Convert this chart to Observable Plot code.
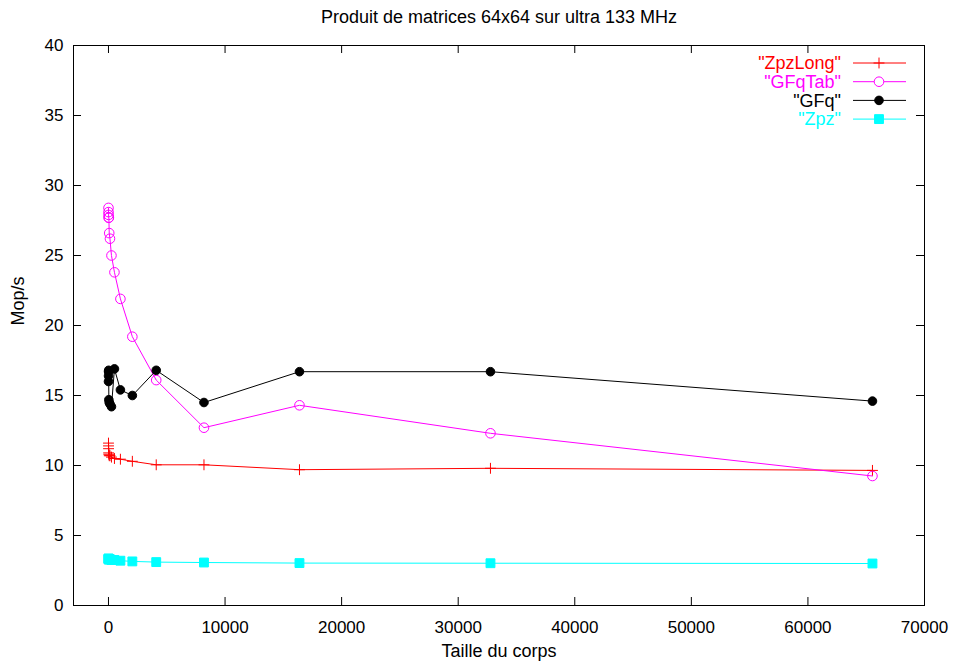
<!DOCTYPE html>
<html>
<head>
<meta charset="utf-8">
<script src="https://cdn.jsdelivr.net/npm/d3@7"></script>
<script src="https://cdn.jsdelivr.net/npm/@observablehq/plot@0.6"></script>
<style>
  body { margin: 0; background: #fff; }
  svg { font-family: "Liberation Sans", Arial, sans-serif; }
</style>
</head>
<body>
<div id="chart"></div>
<script>
const title = "Produit de matrices 64x64 sur ultra 133 MHz";
const xLabel = "Taille du corps";
const yLabel = "Mop/s";
const sizes = [2, 4, 8, 16, 32, 64, 128, 256, 512, 1024, 2048, 4096, 8192, 16384, 32768, 65536];
const zpzLong = [11.6, 11.4, 11.2, 10.9, 10.8, 10.7, 10.7, 10.6, 10.5, 10.45, 10.3, 10.05, 10.05, 9.7, 9.8, 9.65];
const gfqTab  = [28.4, 28.1, 27.9, 27.7, 27.7, 26.6, 26.2, 25.0, 23.8, 21.9, 19.2, 16.1, 12.7, 14.3, 12.3, 9.25];
const gfq     = [16.0, 16.4, 16.7, 16.8, 14.7, 14.5, 14.4, 14.2, 16.9, 15.4, 15.0, 16.8, 14.5, 16.7, 16.7, 14.6];
const zpz     = [3.35, 3.35, 3.3, 3.3, 3.3, 3.3, 3.3, 3.25, 3.25, 3.2, 3.15, 3.1, 3.07, 3.03, 3.02, 3.0];
const xTicks = [0, 10000, 20000, 30000, 40000, 50000, 60000, 70000];
const yTicks = [0, 5, 10, 15, 20, 25, 30, 35, 40];

const series = [
  {name: "\"ZpzLong\"", values: zpzLong, color: "#ff0000", symbol: "plus", fill: "none", r: 3.6},
  {name: "\"GFqTab\"", values: gfqTab, color: "#ff00ff", symbol: "circle", fill: "none", r: 4.8},
  {name: "\"GFq\"", values: gfq, color: "#000000", symbol: "circle", fill: "#000000", r: 4.3},
  {name: "\"Zpz\"", values: zpz, color: "#00ffff", symbol: "square", fill: "#00ffff", r: 5}
];
const rows = series.flatMap(s => s.values.map((v, i) => ({series: s.name, x: sizes[i], y: v})));

const W = 959, H = 666, mL = 73, mR = 35, mT = 45, mB = 61;
const innerH = H - mT - mB, innerW = W - mL - mR;
const tickLen = 8;
const FS = 17, FL = 18;

const marks = [
  Plot.frame({stroke: "#000"}),
  Plot.ruleX(xTicks, {x: d => d, insetTop: innerH - tickLen, stroke: "#000"}),
  Plot.ruleX(xTicks, {x: d => d, insetBottom: innerH - tickLen, stroke: "#000"}),
  Plot.ruleY(yTicks, {y: d => d, insetRight: innerW - tickLen, stroke: "#000"}),
  Plot.ruleY(yTicks, {y: d => d, insetLeft: innerW - tickLen, stroke: "#000"}),
  Plot.axisX(xTicks, {tickSize: 0, tickPadding: 15, fontSize: FS, label: null, tickFormat: d3.format("d")}),
  Plot.axisY(yTicks, {tickSize: 0, tickPadding: 10, fontSize: FS, label: null, tickFormat: d3.format("d")}),
  Plot.text([title], {frameAnchor: "top", lineAnchor: "middle", dy: -28, fontSize: FL}),
  Plot.text([xLabel], {frameAnchor: "bottom", lineAnchor: "middle", dy: 46, fontSize: FL}),
  Plot.text([yLabel], {frameAnchor: "left", dx: -55, rotate: -90, fontSize: FL})
];
for (const s of series) {
  const data = rows.filter(d => d.series === s.name);
  marks.push(Plot.line(data, {x: "x", y: "y", stroke: s.color, strokeWidth: 1}));
  marks.push(Plot.dot(data, {x: "x", y: "y", symbol: s.symbol, r: s.r, stroke: s.color, fill: s.fill, strokeWidth: 1}));
}
// legend (inside top-right corner)
marks.push((index, scales, values, dims) => {
  const g = d3.create("svg:g");
  const right = dims.width - dims.marginRight;
  const top = dims.marginTop;
  series.forEach((s, i) => {
    const y = top + 18 + i * 18.7;
    g.append("text").attr("x", right - 83).attr("y", y).attr("dy", "0.35em")
      .attr("text-anchor", "end").attr("font-size", FL).attr("fill", s.color).text(s.name);
    g.append("line").attr("x1", right - 71).attr("x2", right - 18).attr("y1", y).attr("y2", y)
      .attr("stroke", s.color).attr("stroke-width", 1);
    const sym = {plus: d3.symbolPlus, circle: d3.symbolCircle, square: d3.symbolSquare}[s.symbol];
    g.append("path").attr("transform", `translate(${right - 45},${y})`)
      .attr("d", d3.symbol(sym, s.r * s.r * Math.PI)())
      .attr("stroke", s.color).attr("fill", s.fill === "none" ? (s.symbol === "circle" ? "#fff" : "none") : s.fill);
  });
  return g.node();
});

const chart = Plot.plot({
  width: W, height: H,
  marginLeft: mL, marginRight: mR, marginTop: mT, marginBottom: mB,
  style: {fontFamily: "'Liberation Sans', Arial, sans-serif", fontSize: FS + "px", color: "#000", background: "#fff"},
  x: {domain: [-3000, 70000]},
  y: {domain: [0, 40]},
  marks
});
document.getElementById("chart").appendChild(chart);
</script>
</body>
</html>
